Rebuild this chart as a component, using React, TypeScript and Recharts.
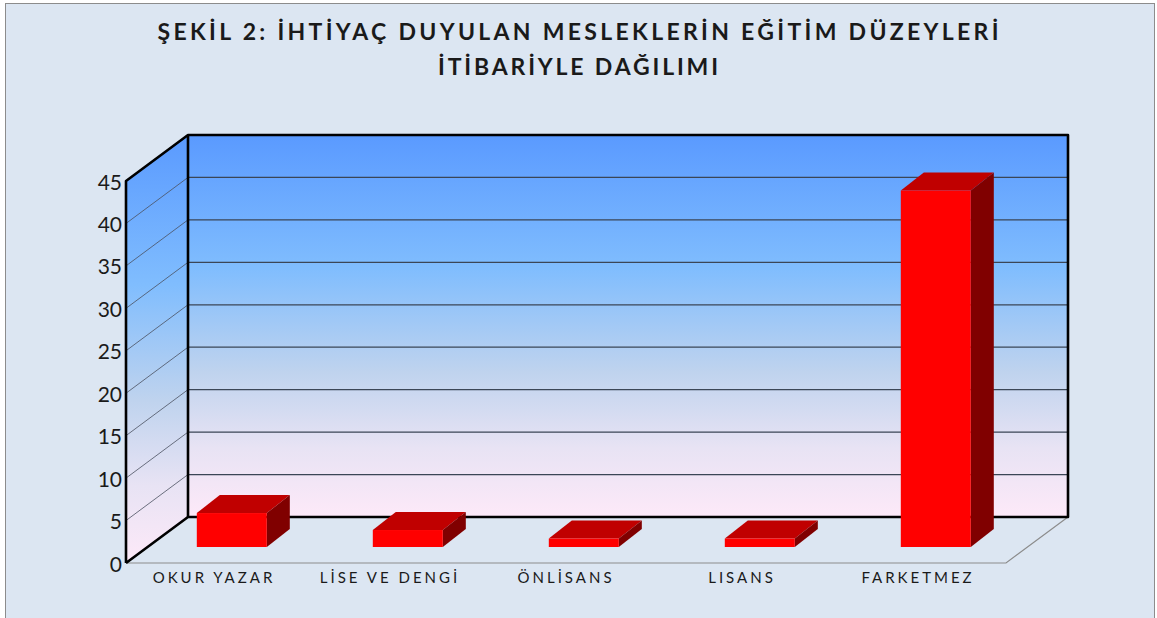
import React from 'react';
import { BarChart, Bar, XAxis, YAxis, ReferenceArea } from 'recharts';

const categories = ['OKUR YAZAR', 'LİSE VE DENGİ', 'ÖNLİSANS', 'LISANS', 'FARKETMEZ'];
const counts = [4, 2, 1, 1, 42];
const yTicks = [0, 5, 10, 15, 20, 25, 30, 35, 40, 45];
const titleLines = ['ŞEKİL 2: İHTİYAÇ DUYULAN MESLEKLERİN EĞİTİM DÜZEYLERİ', 'İTİBARİYLE DAĞILIMI'];

const data = categories.map((name, i) => ({ name, value: counts[i] }));

// pseudo-3d offsets relative to the bar plane
const FRONT = { dx: -18, dy: 16 };
const BACK = { dx: 44, dy: -30 };
const DEPTH = { dx: 23, dy: -18 };
const YMAX = yTicks[yTicks.length - 1];

const pts = (arr: number[][]) => arr.map((p) => p.join(',')).join(' ');

function Walls(props: any) {
  const { x, y, width, height } = props;
  const bottom = y + height;
  const yOf = (v: number) => bottom - (height * v) / YMAX;
  const bx = x + BACK.dx;
  const fx = x + FRONT.dx;
  const inner = yTicks.slice(1, -1);
  return (
    <g>
      <defs>
        <linearGradient id="wallFill" x1="0" y1="0" x2="0" y2="1">
          <stop offset="0%" stopColor="#5a9aff" />
          <stop offset="35%" stopColor="#80bdfe" />
          <stop offset="62%" stopColor="#bfd3ee" />
          <stop offset="82%" stopColor="#e8e3f4" />
          <stop offset="100%" stopColor="#fde9f8" />
        </linearGradient>
      </defs>
      {/* back wall */}
      <rect x={bx} y={y + BACK.dy} width={width} height={height} fill="url(#wallFill)" />
      {/* side wall */}
      <polygon
        points={pts([
          [fx, y + FRONT.dy],
          [bx, y + BACK.dy],
          [bx, bottom + BACK.dy],
          [fx, bottom + FRONT.dy],
        ])}
        fill="url(#wallFill)"
      />
      {inner.map((v) => (
        <g key={v}>
          <line x1={bx} y1={yOf(v) + BACK.dy} x2={bx + width} y2={yOf(v) + BACK.dy} stroke="#3b4656" strokeWidth={1.3} />
          <line x1={fx} y1={yOf(v) + FRONT.dy} x2={bx} y2={yOf(v) + BACK.dy} stroke="#4a5060" strokeWidth={0.8} />
        </g>
      ))}
      {/* floor */}
      <polyline
        points={pts([
          [fx, bottom + FRONT.dy],
          [fx + width, bottom + FRONT.dy],
          [bx + width, bottom + BACK.dy],
        ])}
        fill="none"
        stroke="#8c8c8c"
        strokeWidth={1.2}
      />
      {/* black frame edges */}
      <g stroke="#000" strokeWidth={2.6} fill="none" strokeLinejoin="round">
        <polyline
          points={pts([
            [fx, bottom + FRONT.dy],
            [fx, y + FRONT.dy],
            [bx, y + BACK.dy],
            [bx + width, y + BACK.dy],
            [bx + width, bottom + BACK.dy],
            [bx, bottom + BACK.dy],
            [fx, bottom + FRONT.dy],
          ])}
        />
        <line x1={bx} y1={y + BACK.dy} x2={bx} y2={bottom + BACK.dy} />
      </g>
    </g>
  );
}

function Box3D(props: any) {
  const { x, y, width, height } = props;
  if (!height || height <= 0) return null;
  const { dx, dy } = DEPTH;
  return (
    <g>
      <polygon points={pts([[x, y], [x + dx, y + dy], [x + width + dx, y + dy], [x + width, y]])} fill="#c00000" />
      <polygon
        points={pts([[x + width, y], [x + width + dx, y + dy], [x + width + dx, y + height + dy], [x + width, y + height]])}
        fill="#800000"
      />
      <rect x={x} y={y} width={width} height={height} fill="#ff0000" />
    </g>
  );
}

function YTick(props: any) {
  const { x, y, payload } = props;
  return (
    <text
      x={x + FRONT.dx + 4}
      y={y + FRONT.dy}
      textAnchor="end"
      dominantBaseline="central"
      fontFamily="Lato, sans-serif"
      fontSize={21}
      fill="#1a1a1a"
    >
      {payload.value}
    </text>
  );
}

function XTick(props: any) {
  const { x, y, payload } = props;
  return (
    <text
      x={x + FRONT.dx}
      y={y + 28}
      textAnchor="middle"
      fontFamily="Lato, sans-serif"
      fontSize={15}
      letterSpacing={3}
      fill="#1a1a1a"
    >
      {payload.value}
    </text>
  );
}

export default function App() {
  return (
    <div style={{ position: 'absolute', left: 0, top: 0, width: 1157, height: 618, background: '#fff', overflow: 'hidden' }}>
      <div
        style={{
          position: 'absolute',
          left: 5,
          top: 3,
          width: 1150,
          height: 620,
          boxSizing: 'border-box',
          border: '1.5px solid #8c8c8c',
          background: '#dce6f2',
        }}
      />
      <svg style={{ position: 'absolute', left: 0, top: 0 }} width={1157} height={100}>
        <text x={578} y={40} textAnchor="middle" fontFamily="Lato, sans-serif" fontWeight={700} fontSize={23}
          fill="#1a1a1a" textLength={841} lengthAdjust="spacing">
          {titleLines[0]}
        </text>
        <text x={578} y={75} textAnchor="middle" fontFamily="Lato, sans-serif" fontWeight={700} fontSize={23}
          fill="#1a1a1a" textLength={280} lengthAdjust="spacing">
          {titleLines[1]}
        </text>
      </svg>
      <div style={{ position: 'absolute', left: 0, top: 0 }}>
        <BarChart
          width={1157}
          height={618}
          data={data}
          margin={{ top: 165, right: 133, bottom: 41, left: 0 }}
          barCategoryGap="30%"
        >
          <ReferenceArea y1={0} y2={YMAX} ifOverflow="visible" shape={<Walls />} />
          <XAxis dataKey="name" axisLine={false} tickLine={false} height={30} interval={0} tick={<XTick />} />
          <YAxis
            domain={[0, YMAX]}
            ticks={yTicks}
            axisLine={false}
            tickLine={false}
            width={144}
            interval={0}
            tick={<YTick />}
          />
          <Bar dataKey="value" shape={<Box3D />} isAnimationActive={false} />
        </BarChart>
      </div>
    </div>
  );
}
